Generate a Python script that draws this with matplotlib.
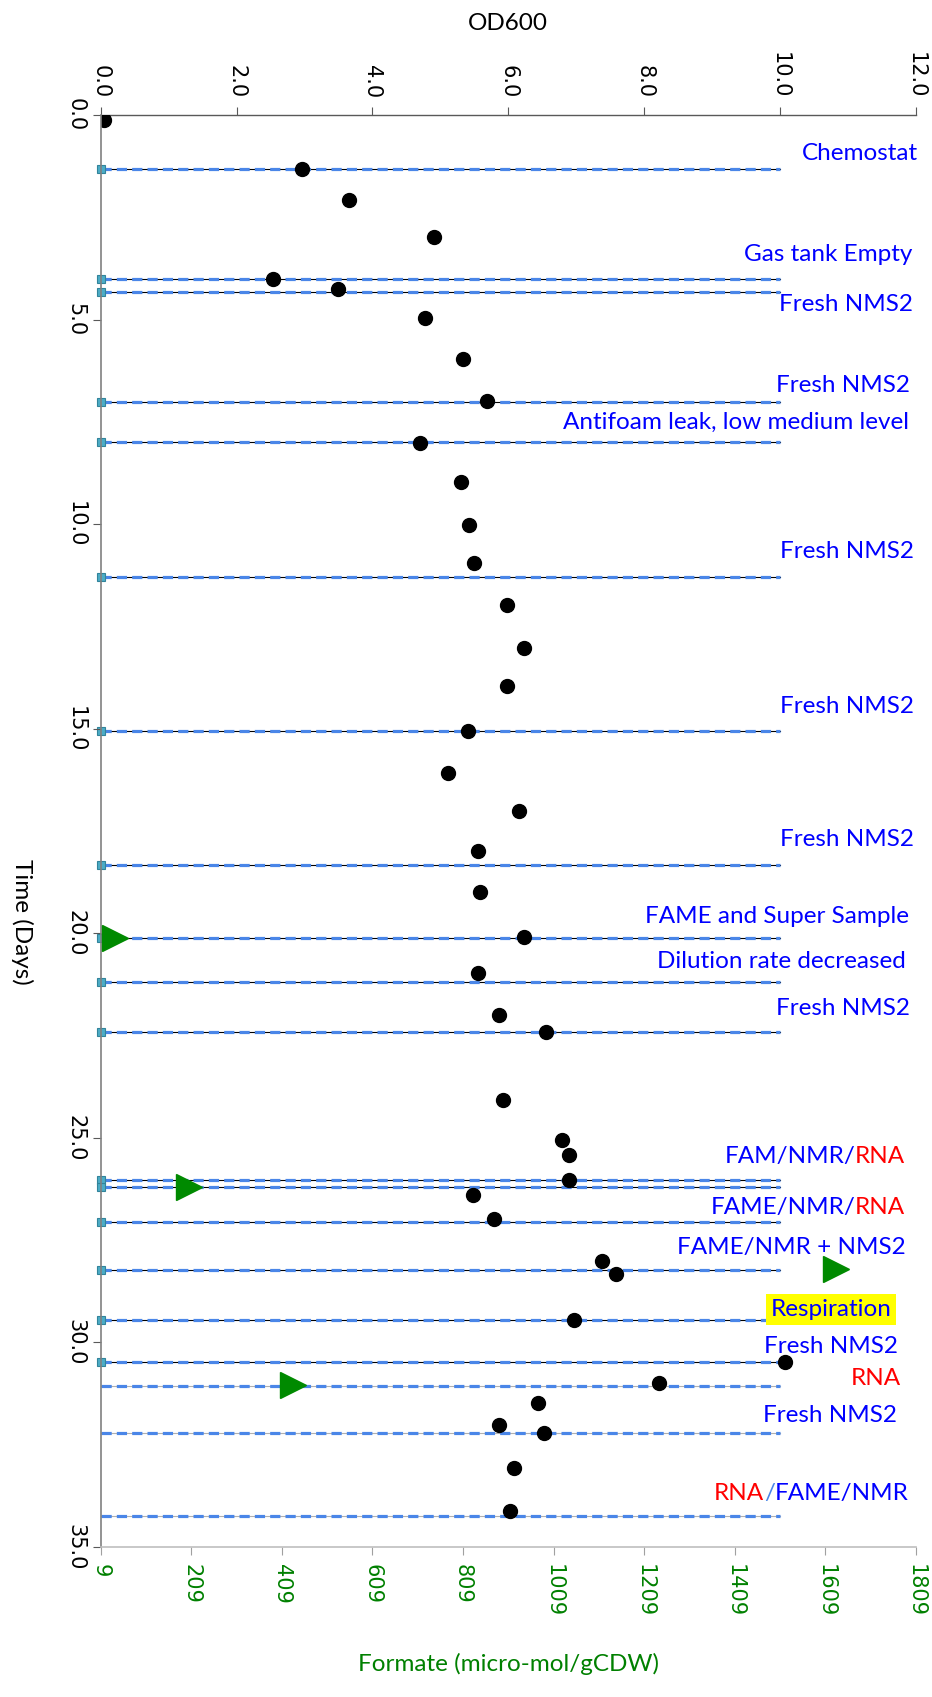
# Chemostat run: OD600 and formate against time, with run events marked
import matplotlib
matplotlib.use('Agg')
import matplotlib.pyplot as plt
import matplotlib.ticker as tck

# OD600 samples (day, OD)
od_days = [0.12, 1.32, 2.07, 2.98, 4.0, 4.24, 4.97, 5.97, 7.0, 8.01,
           8.98, 10.03, 10.96, 11.98, 13.02, 13.96, 15.06, 16.09, 17.02, 17.99,
           18.99, 20.1, 20.98, 22.0, 22.41, 24.08, 25.05, 25.43, 26.02, 26.39,
           26.99, 28.02, 28.32, 29.44, 30.48, 30.99, 31.49, 32.01, 32.22, 33.06,
           34.13]
od600 = [0.05, 2.96, 3.66, 4.91, 2.54, 3.50, 4.78, 5.34, 5.69, 4.70,
         5.30, 5.42, 5.49, 5.98, 6.23, 5.98, 5.40, 5.11, 6.16, 5.55,
         5.58, 6.23, 5.55, 5.86, 6.56, 5.92, 6.79, 6.89, 6.89, 5.48,
         5.79, 7.38, 7.58, 6.97, 10.07, 8.22, 6.44, 5.86, 6.52, 6.09,
         6.03]

# formate samples (micro-mol/gCDW)
formate_days = [20.12, 26.2, 28.2, 31.05]
formate = [41, 204, 1633, 434]

# run events
event_days = [1.32, 4.0, 4.32, 7.02, 8.0, 11.29, 15.06, 18.32, 20.12, 21.2,
              22.42, 26.03, 26.2, 27.05, 28.23, 29.46, 30.48, 31.07, 32.21, 34.25]
event_labels = [
    [('Chemostat', 'blue')],
    [('Gas tank Empty', 'blue')],
    [('Fresh NMS2', 'blue')],
    [('Fresh NMS2', 'blue')],
    [('Antifoam leak, low medium level', 'blue')],
    [('Fresh NMS2', 'blue')],
    [('Fresh NMS2', 'blue')],
    [('Fresh NMS2', 'blue')],
    [('FAME and Super Sample', 'blue')],
    [('Dilution rate decreased', 'blue')],
    [('Fresh NMS2', 'blue')],
    [('FAM/NMR/', 'blue'), ('RNA', 'red')],
    [],
    [('FAME/NMR/', 'blue'), ('RNA', 'red')],
    [('FAME/NMR + NMS2', 'blue')],
    [('Respiration', 'blue')],
    [('Fresh NMS2', 'blue')],
    [('RNA', 'red')],
    [('Fresh NMS2', 'blue')],
    [('RNA', 'red'), ('/', '#4a86e8'), ('FAME/NMR', 'blue')],
]
# label placement: vertical centre (days) and right edge (axes fraction)
label_days = [0.93, 3.42, 4.62, 6.62, 7.52, 10.68, 14.45, 17.70, 19.60, 20.68,
              21.85, 25.45, None, 26.69, 27.69, 29.19, 30.09, 30.87, 31.78, 33.69]
label_right = [1.003, 0.995, 0.996, 0.993, 0.991, 0.997, 0.997, 0.997, 0.991, 0.988,
               0.993, 0.987, None, 0.987, 0.987, 0.970, 0.978, 0.982, 0.977, 0.991]
n_marked = 17   # events logged with a marker on the time axis

label_font = 'Lato'
tick_font = 'DejaVu Sans'

fig = plt.figure(figsize=(9.32, 16.97), dpi=100)
ax = fig.add_axes([0.108, 0.0884, 0.8748, 0.8438])
ax_od = ax.twiny()
ax.set_zorder(ax_od.get_zorder() + 1)
ax.patch.set_visible(False)

ax.set_ylim(35, 0)
ax.set_xlim(9, 1809)
ax_od.set_xlim(0, 12)

ax.yaxis.set_major_locator(tck.MultipleLocator(5))
ax.yaxis.set_major_formatter(tck.FormatStrFormatter('%.1f'))
ax.set_xticks(range(9, 1810, 200))
ax_od.set_xticks(range(0, 13, 2))
ax_od.xaxis.set_major_formatter(tck.FormatStrFormatter('%.1f'))

for a in (ax, ax_od):
    for s in a.spines.values():
        s.set_visible(False)
ax.spines['left'].set_visible(True)
ax.spines['left'].set_color('#808080')
ax.spines['left'].set_linewidth(1.2)
ax.spines['bottom'].set_visible(True)
ax.spines['bottom'].set_color('#bfbfbf')
ax.spines['bottom'].set_linewidth(1.2)
ax_od.spines['top'].set_visible(True)
ax_od.spines['top'].set_color('#595959')
ax_od.spines['top'].set_linewidth(1.0)

ax.tick_params(axis='y', direction='out', length=6, color='#595959',
               labelsize=15, labelrotation=-90, pad=5)
ax.tick_params(axis='x', direction='out', length=6, color='#a0a0a0',
               labelsize=15, labelrotation=-90, labelcolor='green', pad=6)
ax_od.tick_params(axis='x', direction='out', length=6, color='#595959',
                  labelsize=15, labelrotation=-90, pad=6)
for lab in ax.get_yticklabels():
    lab.set_va('center')
    lab.set_family(tick_font)
for lab in ax.get_xticklabels() + ax_od.get_xticklabels():
    lab.set_family(tick_font)

# event lines, drawn out to OD 10
for i, d in enumerate(event_days):
    under = 'black' if i < n_marked else '#b0b0b0'
    ax_od.plot([0, 10], [d, d], color=under, lw=0.8, zorder=2)
    ax_od.plot([0, 10], [d, d], color='#4a86e8', lw=2.3,
               dashes=(3.2, 1.6), zorder=3)
    if i < n_marked:
        ax_od.plot(0, d, marker='s', ms=6, mfc='#4bacc6', mec='#31849b',
                   mew=0.8, clip_on=False, zorder=5)

ax_od.plot(od600, od_days, 'o', color='black', ms=10, zorder=6)
ax.plot(formate, formate_days, '>', color='#008a00', ms=19, zorder=6)

# event labels, right aligned; coloured pieces chained right to left
trans = ax_od.get_yaxis_transform()
for parts, y, xr in zip(event_labels, label_days, label_right):
    if not parts:
        continue
    prev = None
    for text, col in reversed(parts):
        kw = dict(color=col, fontsize=17.5, family=label_font)
        if text == 'Respiration':
            kw['bbox'] = dict(boxstyle='square,pad=0.2', fc='yellow', ec='none')
        if prev is None:
            prev = ax_od.text(xr, y, text, ha='right', va='center',
                              transform=trans, zorder=7, clip_on=False, **kw)
        else:
            prev = ax_od.annotate(text, xy=(0, 0), xycoords=prev, ha='right',
                                  va='bottom', zorder=7, **kw)

fig.text(0.5 * (0.108 + 0.9828), 1 - 23 / 1697, 'OD600', ha='center',
         va='center', fontsize=17.5, family=label_font)
fig.text(22 / 932, 1 - 922 / 1697, 'Time (Days)', ha='center', va='center',
         rotation=-90, fontsize=17.5, family=label_font)
fig.text(0.5 * (0.108 + 0.9828), 1 - 1664 / 1697, 'Formate (micro-mol/gCDW)',
         ha='center', va='center', fontsize=17.5, family=label_font, color='green')

fig.savefig('out.png', dpi=100)
